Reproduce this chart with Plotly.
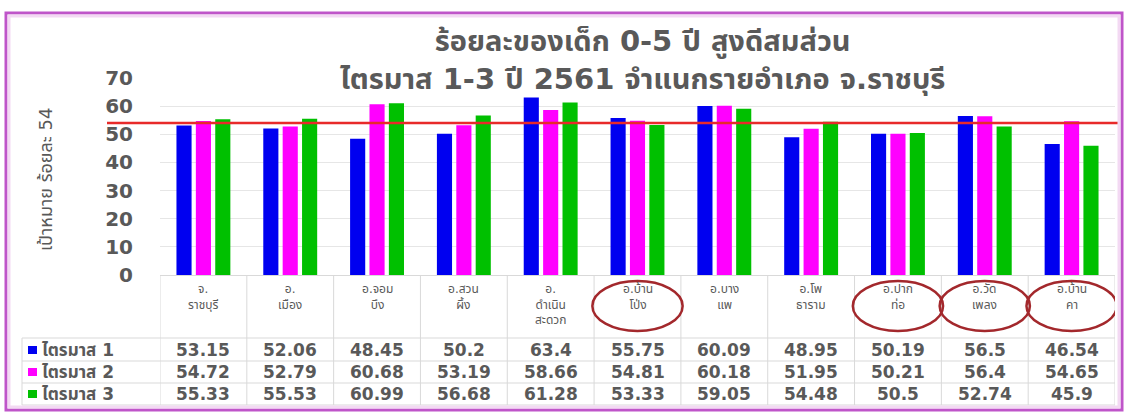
import plotly.graph_objects as go

categories = ["จ.<br>ราชบุรี", "อ.<br>เมือง", "อ.จอม<br>บึง", "อ.สวน<br>ผึ้ง", "อ.<br>ดำเนิน<br>สะดวก",
              "อ.บ้าน<br>โป่ง", "อ.บาง<br>แพ", "อ.โพ<br>ธาราม", "อ.ปาก<br>ท่อ", "อ.วัด<br>เพลง", "อ.บ้าน<br>คา"]
series_names = ["ไตรมาส 1", "ไตรมาส 2", "ไตรมาส 3"]
q1 = [53.15, 52.06, 48.45, 50.2, 63.4, 55.75, 60.09, 48.95, 50.19, 56.5, 46.54]
q2 = [54.72, 52.79, 60.68, 53.19, 58.66, 54.81, 60.18, 51.95, 50.21, 56.4, 54.65]
q3 = [55.33, 55.53, 60.99, 56.68, 61.28, 53.33, 59.05, 54.48, 50.5, 52.74, 45.9]
colors = ["#0000F0", "#FF00FF", "#00C000"]
target = 54
circled = [5, 8, 9, 10]
y_ticks = [0, 10, 20, 30, 40, 50, 60, 70]
title_lines = ["ร้อยละของเด็ก 0-5 ปี สูงดีสมส่วน", "ไตรมาส 1-3 ปี 2561 จำแนกรายอำเภอ จ.ราชบุรี"]
y_title = "เป้าหมาย ร้อยละ 54"

W, H = 1127, 414
L, R, T, B = 160, 12, 78, 139
PW = W - L - R
PH = H - T - B
GRAY = "#595959"
FONT = "'DejaVu Sans', Tahoma, 'Noto Sans Thai', 'Noto Sans', sans-serif"


def px_x(px):
    return (px - L) / PW


def px_y(py):
    return (H - B - py) / PH


xs = list(range(len(categories)))
fig = go.Figure()
for name, vals, col in zip(series_names, [q1, q2, q3], colors):
    fig.add_trace(go.Bar(x=xs, y=vals, name=name, marker=dict(color=col, line=dict(width=0)),
                         showlegend=False))

shapes = []
annotations = []

# target line
shapes.append(dict(type="line", xref="paper", yref="y", x0=px_x(107), x1=px_x(1120), y0=target, y1=target,
                   line=dict(color="#E82A2A", width=2.5), layer="above"))

# table grid lines
line_col = "#D9D9D9"
n = len(categories)
for i in range(n + 1):
    shapes.append(dict(type="line", xref="x", yref="paper", x0=i - 0.5, x1=i - 0.5, y0=0, y1=px_y(405),
                       line=dict(color=line_col, width=1)))
shapes.append(dict(type="line", xref="paper", yref="paper", x0=px_x(22), x1=px_x(22), y0=px_y(338), y1=px_y(405),
                   line=dict(color=line_col, width=1)))
for py in [338, 361, 383, 405]:
    shapes.append(dict(type="line", xref="paper", yref="paper", x0=px_x(22), x1=1, y0=px_y(py), y1=px_y(py),
                       line=dict(color=line_col, width=1)))

# category labels
for i, c in enumerate(categories):
    annotations.append(dict(x=i, y=px_y(280), xref="x", yref="paper", text=c, showarrow=False,
                            yanchor="top", xanchor="center",
                            font=dict(size=12, color=GRAY, family=FONT)))

# values rows
row_y = [350, 372, 394]
for r, (name, vals, col) in enumerate(zip(series_names, [q1, q2, q3], colors)):
    for i, v in enumerate(vals):
        annotations.append(dict(x=i, y=px_y(row_y[r]), xref="x", yref="paper", text="<b>%s</b>" % v,
                                showarrow=False, xanchor="center", yanchor="middle",
                                font=dict(size=17, color=GRAY, family=FONT)))
    shapes.append(dict(type="rect", xref="paper", yref="paper", x0=px_x(28), x1=px_x(37),
                       y0=px_y(row_y[r] + 4), y1=px_y(row_y[r] - 4), fillcolor=col, line=dict(width=0)))
    annotations.append(dict(x=px_x(40), y=px_y(row_y[r]), xref="paper", yref="paper", text="<b>%s</b>" % name,
                            showarrow=False, xanchor="left", yanchor="middle",
                            font=dict(size=17, color=GRAY, family=FONT)))

# circles
for i in circled:
    shapes.append(dict(type="circle", xref="x", yref="paper", x0=i - 0.52, x1=i + 0.52,
                       y0=px_y(331), y1=px_y(281), line=dict(color="#A3282C", width=2.5), layer="above"))

# title (two lines)
annotations.append(dict(x=px_x(642), y=px_y(60), xref="paper", yref="paper",
                        text="<b>%s<br>%s</b>" % (title_lines[0], title_lines[1]),
                        showarrow=False, xanchor="center", yanchor="middle", bgcolor="white",
                        font=dict(size=29, color=GRAY, family=FONT)))
annotations.append(dict(x=px_x(45), y=px_y(180), xref="paper", yref="paper", text=y_title, textangle=-90,
                        showarrow=False, xanchor="center", yanchor="middle",
                        font=dict(size=18, color=GRAY, family=FONT)))

# outer frame
shapes.append(dict(type="rect", xref="paper", yref="paper", x0=px_x(6), x1=px_x(1122), y0=px_y(410), y1=px_y(13),
                   line=dict(color="#BF55C9", width=3)))
shapes.append(dict(type="rect", xref="paper", yref="paper", x0=px_x(9), x1=px_x(1119), y0=px_y(407), y1=px_y(16),
                   line=dict(color="#F3D9F3", width=3)))

fig.update_layout(
    width=W, height=H, margin=dict(l=L, r=R, t=T, b=B),
    paper_bgcolor="white", plot_bgcolor="white",
    barmode="group", bargap=0.33, bargroupgap=0.22,
    font=dict(family=FONT, color=GRAY),
    xaxis=dict(range=[-0.5, n - 0.5], showticklabels=False, showgrid=False, zeroline=False,
               showline=True, linecolor="#D9D9D9", linewidth=1, ticks=""),
    yaxis=dict(range=[0, 70], tickvals=y_ticks, ticktext=["<b>%d</b>" % t for t in y_ticks],
               showgrid=True, gridcolor="#E6E6E6", gridwidth=1, zeroline=False, showline=False,
               ticklabelstandoff=26, tickfont=dict(size=20, color=GRAY, family=FONT)),
    shapes=shapes, annotations=annotations,
)

fig.write_html("out.html", config={"displayModeBar": False},
               post_script="document.body.style.margin='0';document.body.style.padding='0';")
